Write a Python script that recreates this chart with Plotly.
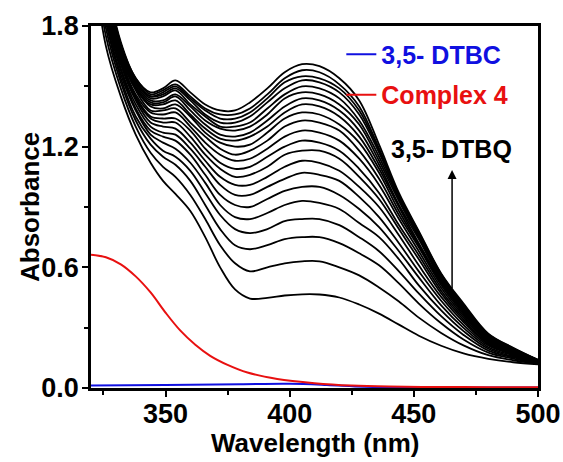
import plotly.graph_objects as go

# Wavelength grid (nm) at which the DTBQ growth spectra were read
wavelengths = [320, 326, 332, 338, 344, 349, 354, 360, 366, 372, 378, 384, 391, 398,
               405, 412, 420, 428, 436, 444, 452, 461, 470, 480, 490, 500]

# Successive spectra (bottom -> top), absorbance values
dtbq_spectra = [
    [2.20, 1.70, 1.45, 1.26, 1.12, 1.03, 0.965, 0.88, 0.75, 0.60, 0.49, 0.445, 0.448, 0.46, 0.466, 0.465, 0.45, 0.415, 0.37, 0.315, 0.26, 0.21, 0.172, 0.145, 0.128, 0.118],
    [2.26, 1.75, 1.49, 1.30, 1.17, 1.10, 1.05, 0.96, 0.84, 0.71, 0.62, 0.58, 0.60, 0.62, 0.63, 0.63, 0.60, 0.56, 0.50, 0.43, 0.35, 0.274, 0.212, 0.163, 0.138, 0.121],
    [2.30, 1.79, 1.52, 1.33, 1.21, 1.15, 1.11, 1.03, 0.91, 0.79, 0.71, 0.69, 0.71, 0.74, 0.75, 0.75, 0.72, 0.67, 0.61, 0.52, 0.42, 0.322, 0.241, 0.176, 0.146, 0.123],
    [2.33, 1.82, 1.54, 1.35, 1.24, 1.18, 1.15, 1.08, 0.97, 0.86, 0.79, 0.77, 0.79, 0.83, 0.84, 0.84, 0.81, 0.75, 0.68, 0.58, 0.47, 0.357, 0.264, 0.186, 0.152, 0.125],
    [2.36, 1.84, 1.56, 1.38, 1.26, 1.22, 1.19, 1.12, 1.02, 0.91, 0.85, 0.84, 0.87, 0.91, 0.93, 0.92, 0.89, 0.82, 0.75, 0.64, 0.51, 0.386, 0.283, 0.195, 0.157, 0.127],
    [2.39, 1.86, 1.58, 1.39, 1.28, 1.25, 1.23, 1.16, 1.06, 0.96, 0.91, 0.90, 0.94, 0.98, 1.00, 1.00, 0.96, 0.89, 0.80, 0.68, 0.55, 0.411, 0.299, 0.203, 0.162, 0.128],
    [2.41, 1.88, 1.59, 1.41, 1.30, 1.27, 1.26, 1.19, 1.10, 1.01, 0.96, 0.96, 1.00, 1.04, 1.07, 1.06, 1.03, 0.95, 0.85, 0.72, 0.58, 0.434, 0.314, 0.211, 0.166, 0.130],
    [2.43, 1.90, 1.61, 1.43, 1.32, 1.30, 1.29, 1.22, 1.13, 1.05, 1.01, 1.01, 1.05, 1.10, 1.13, 1.12, 1.08, 1.00, 0.90, 0.76, 0.61, 0.453, 0.328, 0.217, 0.170, 0.131],
    [2.45, 1.92, 1.62, 1.44, 1.34, 1.32, 1.32, 1.25, 1.16, 1.09, 1.05, 1.06, 1.10, 1.16, 1.18, 1.18, 1.14, 1.05, 0.94, 0.79, 0.64, 0.470, 0.339, 0.223, 0.173, 0.132],
    [2.47, 1.93, 1.63, 1.45, 1.35, 1.34, 1.34, 1.28, 1.19, 1.12, 1.09, 1.10, 1.15, 1.20, 1.23, 1.22, 1.18, 1.09, 0.97, 0.81, 0.66, 0.484, 0.350, 0.229, 0.176, 0.133],
    [2.49, 1.95, 1.64, 1.46, 1.37, 1.36, 1.37, 1.30, 1.22, 1.16, 1.13, 1.14, 1.19, 1.25, 1.28, 1.27, 1.23, 1.14, 1.01, 0.84, 0.68, 0.499, 0.360, 0.234, 0.179, 0.134],
    [2.50, 1.96, 1.65, 1.48, 1.38, 1.38, 1.39, 1.32, 1.25, 1.19, 1.16, 1.18, 1.23, 1.30, 1.33, 1.32, 1.28, 1.18, 1.04, 0.86, 0.70, 0.512, 0.369, 0.239, 0.182, 0.135],
    [2.52, 1.98, 1.66, 1.49, 1.40, 1.39, 1.41, 1.35, 1.27, 1.22, 1.20, 1.21, 1.27, 1.34, 1.37, 1.36, 1.31, 1.22, 1.07, 0.88, 0.71, 0.522, 0.377, 0.244, 0.185, 0.135],
    [2.53, 1.99, 1.67, 1.49, 1.41, 1.41, 1.43, 1.36, 1.29, 1.24, 1.23, 1.25, 1.30, 1.37, 1.41, 1.40, 1.35, 1.25, 1.09, 0.90, 0.72, 0.531, 0.385, 0.248, 0.187, 0.136],
    [2.54, 2.00, 1.68, 1.50, 1.42, 1.42, 1.45, 1.38, 1.31, 1.26, 1.25, 1.27, 1.33, 1.40, 1.44, 1.43, 1.38, 1.28, 1.11, 0.91, 0.74, 0.539, 0.391, 0.251, 0.189, 0.137],
    [2.55, 2.01, 1.69, 1.51, 1.43, 1.43, 1.46, 1.40, 1.33, 1.29, 1.28, 1.30, 1.36, 1.44, 1.47, 1.46, 1.41, 1.31, 1.13, 0.93, 0.75, 0.547, 0.397, 0.255, 0.191, 0.137],
    [2.56, 2.02, 1.69, 1.52, 1.44, 1.45, 1.48, 1.41, 1.35, 1.30, 1.30, 1.32, 1.39, 1.46, 1.50, 1.49, 1.44, 1.33, 1.15, 0.94, 0.755, 0.552, 0.402, 0.258, 0.193, 0.138],
    [2.57, 2.03, 1.70, 1.52, 1.45, 1.46, 1.49, 1.43, 1.36, 1.32, 1.32, 1.35, 1.42, 1.49, 1.53, 1.52, 1.47, 1.36, 1.17, 0.95, 0.76, 0.558, 0.407, 0.261, 0.195, 0.138],
    [2.58, 2.03, 1.71, 1.53, 1.45, 1.47, 1.50, 1.44, 1.38, 1.34, 1.34, 1.37, 1.44, 1.52, 1.55, 1.54, 1.49, 1.38, 1.18, 0.96, 0.77, 0.563, 0.411, 0.264, 0.196, 0.139],
    [2.59, 2.04, 1.71, 1.54, 1.46, 1.48, 1.51, 1.45, 1.39, 1.36, 1.36, 1.39, 1.46, 1.54, 1.58, 1.57, 1.51, 1.40, 1.19, 0.96, 0.775, 0.566, 0.415, 0.267, 0.198, 0.139],
    [2.60, 2.05, 1.72, 1.54, 1.47, 1.49, 1.53, 1.47, 1.41, 1.38, 1.38, 1.42, 1.49, 1.57, 1.61, 1.60, 1.54, 1.43, 1.21, 0.97, 0.78, 0.570, 0.420, 0.270, 0.200, 0.140],
]

# Complex 4 spectrum
complex4_wl = [320, 326, 332, 338, 344, 350, 356, 362, 368, 375, 383, 395, 410, 425, 440, 460, 480, 500]
complex4_abs = [0.663, 0.65, 0.615, 0.555, 0.475, 0.375, 0.285, 0.215, 0.16, 0.115, 0.077, 0.045, 0.024, 0.012, 0.007, 0.005, 0.004, 0.004]

# 3,5-DTBC spectrum
dtbc_wl = [320, 350, 380, 400, 415, 430, 450, 500]
dtbc_abs = [0.012, 0.015, 0.019, 0.021, 0.015, 0.006, 0.003, 0.002]

x_ticks = [350, 400, 450, 500]
y_ticks = [0.0, 0.6, 1.2, 1.8]

FONT = "Liberation Sans, Arial, sans-serif"

fig = go.Figure()
for spec in dtbq_spectra:
    fig.add_trace(go.Scatter(x=wavelengths, y=spec, mode="lines",
                             line=dict(color="black", width=1.8, shape="spline", smoothing=1.0),
                             showlegend=False, hoverinfo="skip"))

fig.add_trace(go.Scatter(x=dtbc_wl, y=dtbc_abs, mode="lines",
                         line=dict(color="#1010e0", width=2, shape="spline"),
                         name="<span style='color:#1010e0'>3,5- DTBC</span>", legendgroup="a"))
fig.add_trace(go.Scatter(x=complex4_wl, y=complex4_abs, mode="lines",
                         line=dict(color="#e81010", width=2, shape="spline"),
                         name="<span style='color:#e81010'>Complex 4</span>", legendgroup="b"))

fig.add_annotation(x=465, y=1.19, xref="x", yref="y", text="3,5- DTBQ", showarrow=False,
                   font=dict(family=FONT, size=25, color="black", weight="bold"))
fig.add_annotation(x=465.4, y=1.084, ax=465.4, ay=0.489, xref="x", yref="y", axref="x", ayref="y",
                   text="", showarrow=True, arrowhead=2, arrowsize=1.2, arrowwidth=1.5, arrowcolor="black")

title_font = dict(family=FONT, size=26, color="black", weight="bold")
fig.add_annotation(x=0, y=0.5, xref="paper", yref="paper", xshift=-61, text="Absorbance",
                   textangle=-90, showarrow=False, font=title_font, xanchor="center", yanchor="middle")
fig.add_annotation(x=0.5, y=0, xref="paper", yref="paper", yshift=-55, text="Wavelength (nm)",
                   showarrow=False, font=title_font, xanchor="center", yanchor="middle")

axis_common = dict(showline=True, linecolor="black", linewidth=2.5, mirror=True,
                   ticks="outside", ticklen=6, tickwidth=2, tickcolor="black",
                   showgrid=False, zeroline=False, automargin=False,
                   tickfont=dict(family=FONT, size=27, color="black", weight="bold"))

fig.update_xaxes(range=[320, 500], tickvals=x_ticks, ticklabelstandoff=-6,
                 minor=dict(ticks="outside", ticklen=4, tickwidth=2, dtick=25, tickcolor="black"),
                 **axis_common)
fig.update_yaxes(range=[0, 1.8], tickvals=y_ticks, tickformat=".1f", ticklabelstandoff=-2,
                 minor=dict(ticks="outside", ticklen=4, tickwidth=2, dtick=0.3, tickcolor="black"),
                 **axis_common)

fig.update_layout(width=563, height=462, margin=dict(l=91, r=25, t=26, b=74),
                  plot_bgcolor="white", paper_bgcolor="white",
                  legend=dict(x=0.56, y=0.985, xanchor="left", yanchor="top", bgcolor="rgba(0,0,0,0)",
                              font=dict(family=FONT, size=25, weight="bold"), tracegroupgap=5,
                              itemwidth=30))

fig.write_html("out.html", config={"displayModeBar": False},
               post_script="document.body.style.margin='0px';")
